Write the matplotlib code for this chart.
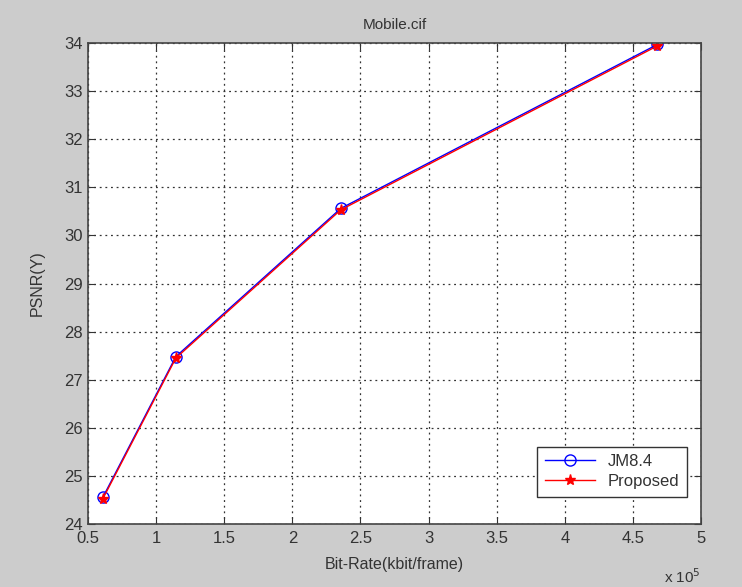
import matplotlib
matplotlib.use("Agg")
import matplotlib.pyplot as plt
from matplotlib.ticker import FuncFormatter, MultipleLocator

plt.rcParams['font.family'] = ['Liberation Sans', 'DejaVu Sans']

title = "Mobile.cif"
xlabel = "Bit-Rate(kbit/frame)"
ylabel = "PSNR(Y)"
series_names = ["JM8.4", "Proposed"]
x_scale_exp = 5
jm_x = [61000, 114500, 235500, 468000]
jm_y = [24.56, 27.48, 30.56, 33.97]
prop_x = [61000, 114500, 235500, 468000]
prop_y = [24.53, 27.45, 30.53, 33.94]

fig = plt.figure(figsize=(7.42, 5.87), dpi=100, facecolor='#cccccc')
ax = fig.add_axes([88/742, 1-524/587, (701-88)/742, (524-43)/587])
ax.set_facecolor('white')

ax.plot(jm_x, jm_y, '-', color='blue', marker='o', markerfacecolor='none',
        markeredgecolor='blue', markersize=8, linewidth=1, label=series_names[0])
ax.plot(prop_x, prop_y, '-', color='red', marker='*', markersize=8,
        linewidth=1, label=series_names[1])

ax.set_xlim(50000, 500000)
ax.set_ylim(24, 34)
ax.xaxis.set_major_locator(MultipleLocator(50000))
ax.yaxis.set_major_locator(MultipleLocator(1))
ax.xaxis.set_major_formatter(FuncFormatter(lambda v, p: "%g" % (v / 10**x_scale_exp)))

ax.grid(True, linestyle=(0, (1.5, 3)), color='#333333', linewidth=0.9)
ax.tick_params(direction='in', length=5, top=True, right=True,
               labelsize=12, colors='#333333')
ax.tick_params(axis='x', pad=5)
for s in ax.spines.values():
    s.set_color('#444444')
    s.set_linewidth(1.2)

ax.set_title(title, fontsize=11, color='#333333', pad=10)
ax.set_xlabel(xlabel, fontsize=11.5, color='#333333', labelpad=8)
ax.set_ylabel(ylabel, fontsize=11.5, color='#333333', labelpad=14)
ax.text(1.0, -0.09, r"x 10$^{%d}$" % x_scale_exp, transform=ax.transAxes,
        ha='right', va='top', fontsize=11, color='#333333')

leg = ax.legend(loc='lower right', bbox_to_anchor=(0.983, 0.05), fontsize=12,
                fancybox=False, edgecolor='#333333', framealpha=1,
                handlelength=3, borderpad=0.45, labelspacing=0.3,
                borderaxespad=0.2)
for t in leg.get_texts():
    t.set_color('#333333')

fig.savefig("out.png", dpi=100, facecolor=fig.get_facecolor())
